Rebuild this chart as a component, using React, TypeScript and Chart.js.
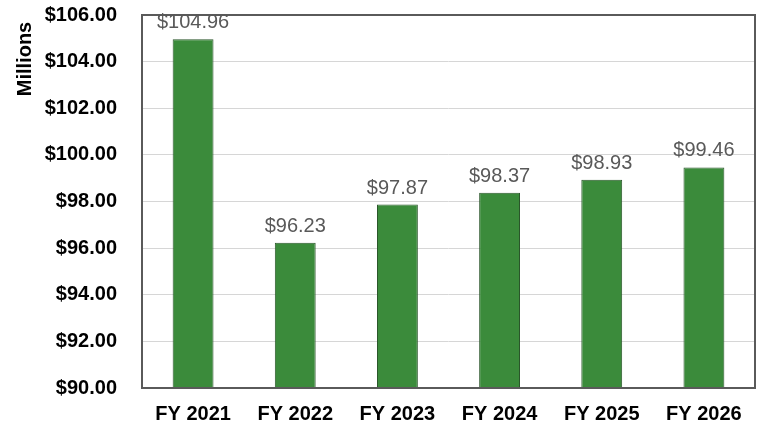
import React, { useEffect, useRef } from "react";
import { Chart, registerables } from "chart.js";

Chart.register(...registerables);

const categories = ["FY 2021", "FY 2022", "FY 2023", "FY 2024", "FY 2025", "FY 2026"];
const values = [104.96, 96.23, 97.87, 98.37, 98.93, 99.46];
const yMin = 90;
const yMax = 106;
const yStep = 2;
const axisTitle = "Millions";

const FONT = "'Liberation Sans', Arial, sans-serif";

const overlayPlugin = {
  id: "overlay",
  afterDatasetsDraw(chart: any) {
    const { ctx, chartArea } = chart;
    ctx.save();
    // plot border
    ctx.strokeStyle = "#5a5a5a";
    ctx.lineWidth = 2;
    ctx.strokeRect(chartArea.left, chartArea.top, chartArea.right - chartArea.left, chartArea.bottom - chartArea.top);
    // data labels
    const meta = chart.getDatasetMeta(0);
    ctx.fillStyle = "#595959";
    ctx.font = `20px ${FONT}`;
    ctx.textAlign = "center";
    ctx.textBaseline = "alphabetic";
    meta.data.forEach((el: any, i: number) => {
      ctx.fillText("$" + values[i].toFixed(2), el.x, el.y - 11);
    });
    // axis title
    ctx.fillStyle = "#000";
    ctx.font = `bold 20px ${FONT}`;
    ctx.translate(25, 59);
    ctx.rotate(-Math.PI / 2);
    ctx.textAlign = "center";
    ctx.textBaseline = "middle";
    ctx.fillText(axisTitle, 0, 0);
    ctx.restore();
  },
};

export default function App() {
  const ref = useRef<HTMLCanvasElement>(null);
  useEffect(() => {
    document.body.style.margin = "0";
    const chart = new Chart(ref.current!, {
      type: "bar",
      data: {
        labels: categories,
        datasets: [
          {
            data: values,
            backgroundColor: "#3b8b3b",
            borderColor: "#2a562a",
            borderWidth: 1,
            barPercentage: 0.4,
            categoryPercentage: 1,
          },
        ],
      },
      options: {
        animation: false,
        responsive: false,
        layout: { padding: { top: 15, right: 2, left: 0, bottom: 0 } },
        plugins: { legend: { display: false }, tooltip: { enabled: false } },
        scales: {
          x: {
            grid: { display: false, drawTicks: false },
            border: { display: false },
            ticks: { color: "#000", font: { family: FONT, size: 20, weight: "bold" }, padding: 14 },
            afterFit(scale: any) {
              scale.height = 37;
              scale.paddingLeft = 0;
              scale.paddingRight = 0;
            },
          },
          y: {
            min: yMin,
            max: yMax,
            grid: { color: "#d6d6d6", lineWidth: 1, drawTicks: false },
            border: { display: false },
            ticks: {
              stepSize: yStep,
              color: "#000",
              padding: 25,
              font: { family: FONT, size: 20, weight: "bold" },
              callback: (v: any) => "$" + Number(v).toFixed(2),
            },
            afterFit(scale: any) {
              scale.width = 142;
              scale.paddingTop = 0;
              scale.paddingBottom = 0;
            },
          },
        },
      },
      plugins: [overlayPlugin],
    });
    return () => chart.destroy();
  }, []);
  return (
    <div style={{ position: "absolute", left: 0, top: 0, width: 757, height: 425, background: "#fff" }}>
      <canvas ref={ref} width={757} height={425} style={{ display: "block" }} />
    </div>
  );
}
